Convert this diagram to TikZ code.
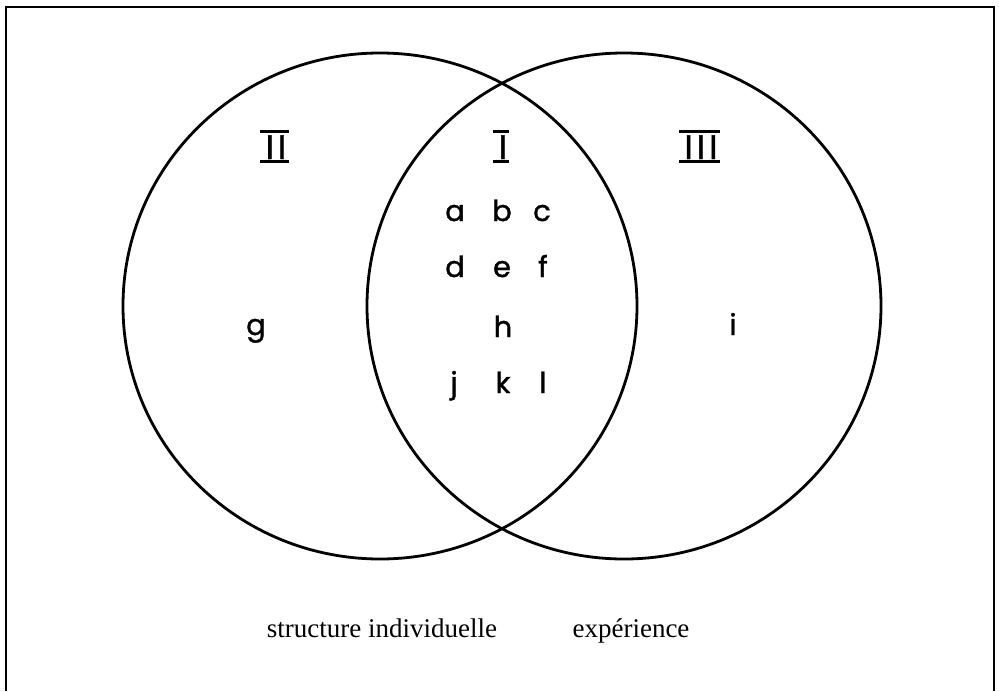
\documentclass[tikz,border=0pt]{standalone}
\usepackage{fontspec}
\setmainfont{Liberation Serif}
\newfontfamily\letterfont[FakeBold=1.2]{Poppins}
\newfontfamily\numfont[FakeBold=1.2,LetterSpace=12]{Poppins}
\usetikzlibrary{positioning,shapes.geometric}

\begin{document}
\begin{tikzpicture}[x=1pt,y=-1pt]
  \tikzset{
    set/.style={draw,ellipse,line width=2.8pt,minimum width=514pt,minimum height=506pt,inner sep=0pt},
    elem/.style={font=\letterfont\fontsize{29}{29}\selectfont,inner sep=0pt,anchor=base},
    numeral/.style={font=\numfont\fontsize{34}{34}\selectfont,inner sep=0pt,anchor=base},
    bar/.style={line width=2.8pt},
    setname/.style={font=\fontsize{27}{27}\selectfont,inner sep=0pt,anchor=base}
  }
  \useasboundingbox (0,0) rectangle (999,691);
  % frame, open at the bottom
  \draw[line width=2.2pt] (6,691) -- (6,7) -- (994,7) -- (994,691);

  \node[set] (left) at (380,306) {};
  \node[set] (right) at (624,306) {};

  % region numbers
  \node[numeral] (n2) at (276,159) {II};
  \node[numeral] (n1) at (503,159) {I};
  \node[numeral] (n3) at (701,159) {III};
  \draw[bar] ([xshift=-5pt,yshift=4pt]n2.north west) -- ([xshift=2pt,yshift=4pt]n2.north east);
  \draw[bar] ([xshift=-5pt,yshift=-2pt]n2.south west) -- ([xshift=2pt,yshift=-2pt]n2.south east);
  \draw[bar] ([xshift=-6pt,yshift=4pt]n1.north west) -- ([xshift=2pt,yshift=4pt]n1.north east);
  \draw[bar] ([xshift=-6pt,yshift=-2pt]n1.south west) -- ([xshift=2pt,yshift=-2pt]n1.south east);
  \draw[bar] ([xshift=-5pt,yshift=4pt]n3.north west) -- ([xshift=2pt,yshift=4pt]n3.north east);
  \draw[bar] ([xshift=-5pt,yshift=-2pt]n3.south west) -- ([xshift=2pt,yshift=-2pt]n3.south east);

  % elements
  \node[elem] (a) at (455,221) {a};
  \node[elem] (b) at (502,221) {b};
  \node[elem] (c) at (542,221) {c};
  \node[elem] (d) at (455,277) {d};
  \node[elem] (e) at (502,277) {e};
  \node[elem] (f) at (543,277) {f};
  \node[elem] (h) at (503,337) {h};
  \node[elem] (j) at (454,393) {j};
  \node[elem] (k) at (503,393) {k};
  \node[elem] (l) at (543,393) {l};
  \node[elem] (g) at (256,335) {g};
  \node[elem] (i) at (733,335) {i};

  \node[setname] (struct) at (382,637) {structure individuelle};
  \node[setname] (exper) at (631,637) {expérience};
\end{tikzpicture}
\end{document}
